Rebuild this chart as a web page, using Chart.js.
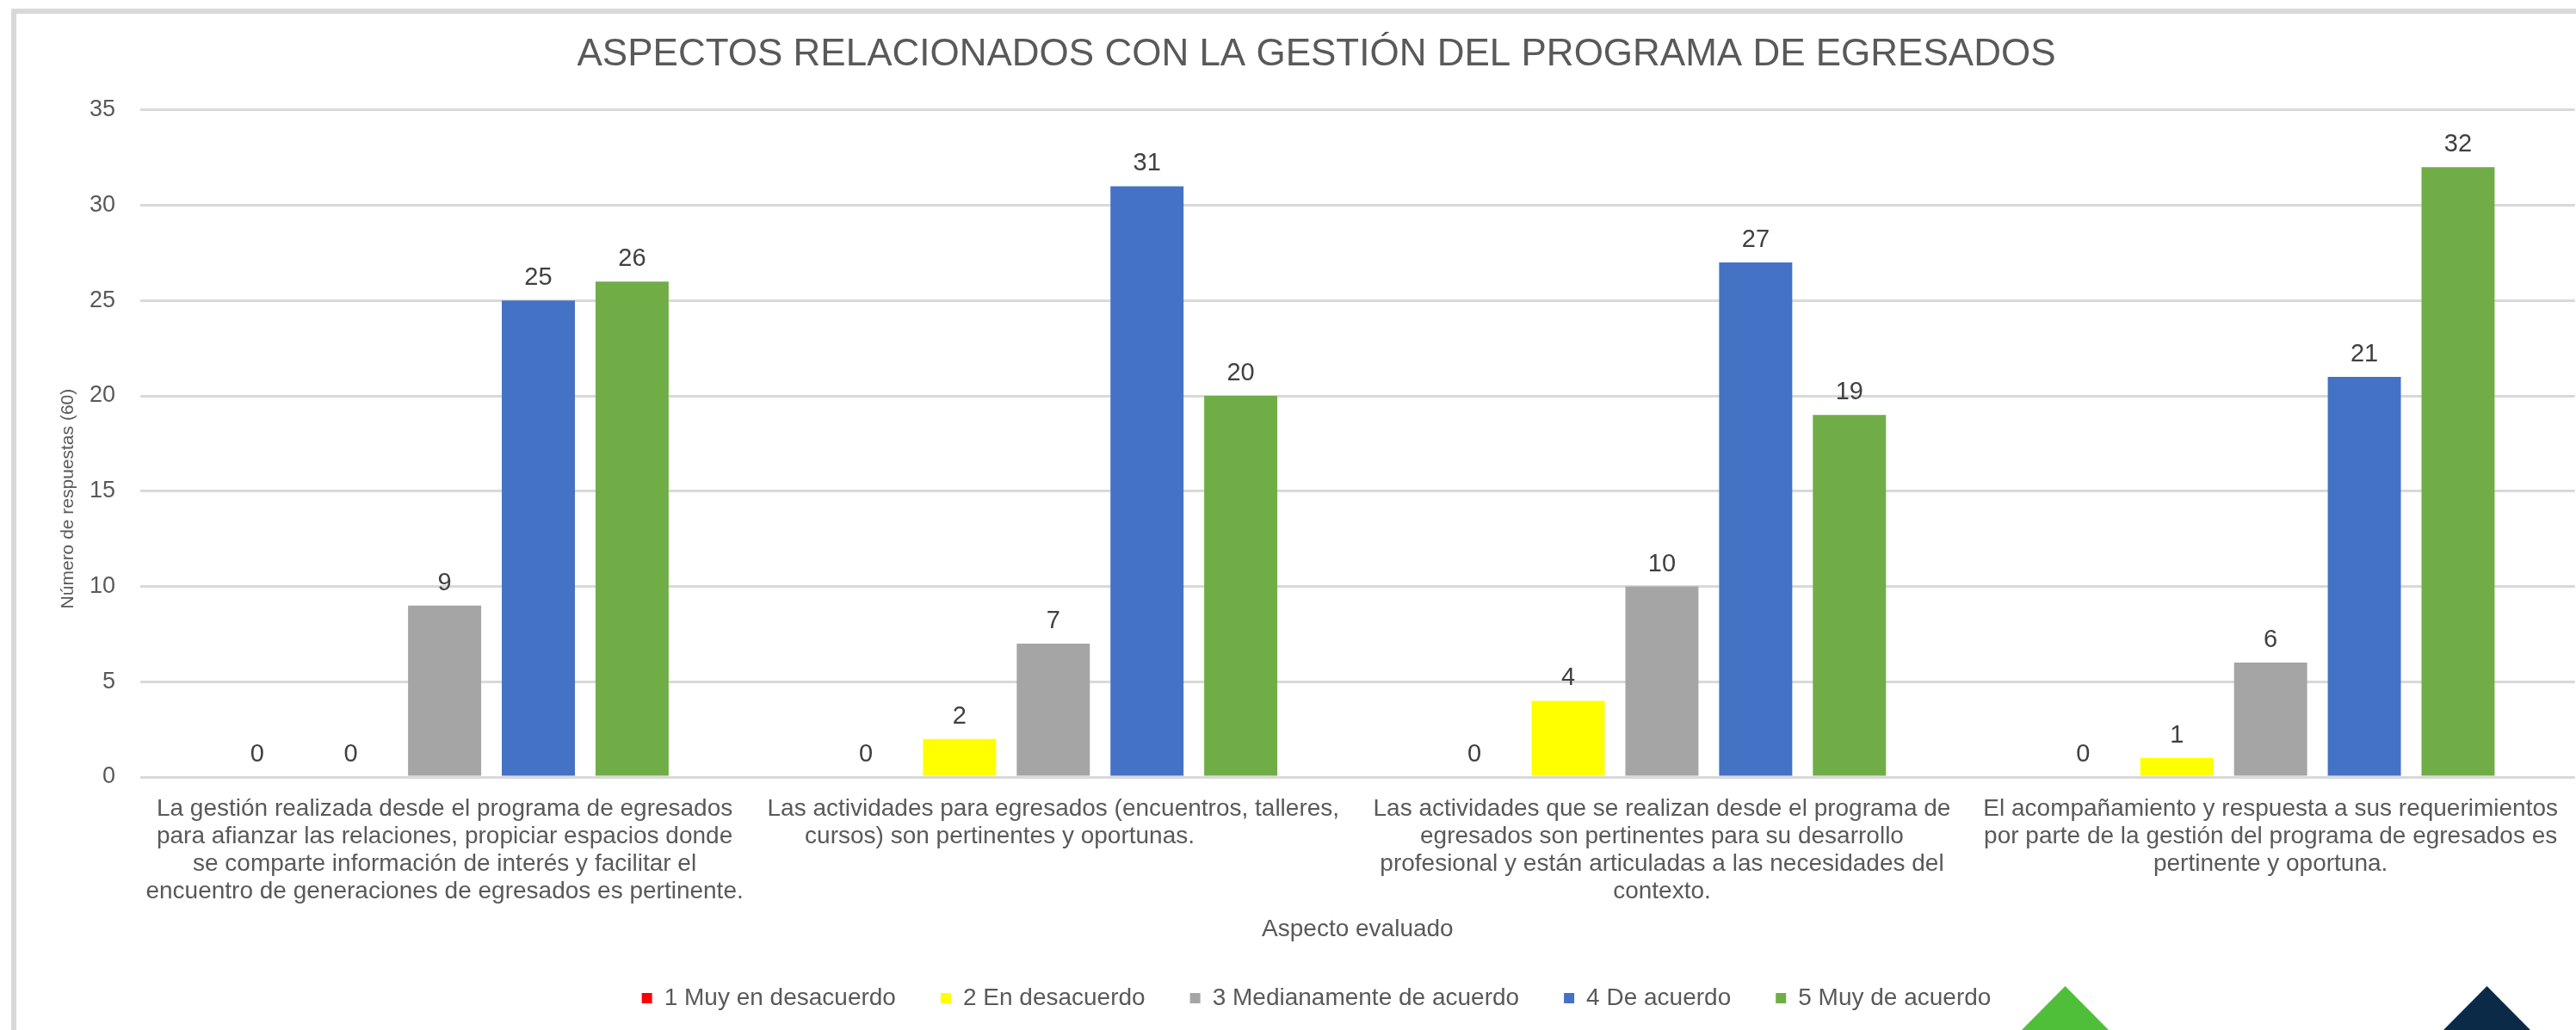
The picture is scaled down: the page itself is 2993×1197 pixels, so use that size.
<!DOCTYPE html>
<html lang="es">
<head>
<meta charset="utf-8">
<title>Aspectos relacionados con la gestión del programa de egresados</title>
<script src="https://cdn.jsdelivr.net/npm/chart.js@4.4.1/dist/chart.umd.min.js"></script>
<style>
    html, body { margin: 0; padding: 0; background: #fff; overflow: hidden; }
    #frame {
        position: absolute; left: 13px; top: 10px; width: 3100px; height: 1300px;
        border-left: 6px solid #d9d9d9; border-top: 6px solid #d9d9d9;
    }
    #wrap { position: absolute; left: 0; top: 0; width: 2993px; height: 1197px; }
    .tri {
        position: absolute; top: 1146px; width: 101px; height: 51px;
        clip-path: polygon(50% 0, 100% 100%, 0 100%);
    }
</style>
</head>
<body>
<div id="frame"></div>
<div id="wrap"><canvas id="chart"></canvas></div>
<div class="tri" style="left:2349px;background:#4fbf3a"></div>
<div class="tri" style="left:2839px;background:#0a2a47"></div>
<script>
// Categories (x axis labels, already wrapped like the original)
const categories = [
    ['La gestión realizada desde el programa de egresados',
     'para afianzar las relaciones, propiciar espacios donde',
     'se comparte información de interés y facilitar el',
     'encuentro de generaciones de egresados es pertinente.'],
    ['Las actividades para egresados (encuentros, talleres,',
     'cursos) son pertinentes y oportunas.                '],
    ['Las actividades que se realizan desde el programa de',
     'egresados son pertinentes para su desarrollo',
     'profesional y están articuladas a las necesidades del',
     'contexto.'],
    ['El acompañamiento y respuesta a sus requerimientos',
     'por parte de la gestión del programa de egresados es',
     'pertinente y oportuna.']
];

const seriesNames = ['1 Muy en desacuerdo', '2 En desacuerdo', '3 Medianamente de acuerdo', '4 De acuerdo', '5 Muy de acuerdo'];
const seriesColors = ['#ff0000', '#ffff00', '#a5a5a5', '#4472c4', '#70ad47'];

const muyDesacuerdo = [0, 0, 0, 0];
const desacuerdo = [0, 2, 4, 1];
const medianamente = [9, 7, 10, 6];
const deAcuerdo = [25, 31, 27, 21];
const muyDeAcuerdo = [26, 20, 19, 32];

const yTicks = [0, 5, 10, 15, 20, 25, 30, 35];

const FONT = '"Liberation Sans", Arial, sans-serif';
const GREY_TEXT = '#595959';

// Draw value labels on top of each bar
const valueLabels = {
    id: 'valueLabels',
    afterDatasetsDraw(chart) {
        const ctx = chart.ctx;
        ctx.save();
        ctx.font = '29px ' + FONT;
        ctx.fillStyle = '#404040';
        ctx.textAlign = 'center';
        ctx.textBaseline = 'alphabetic';
        chart.data.datasets.forEach((ds, i) => {
            chart.getDatasetMeta(i).data.forEach((bar, j) => {
                ctx.fillText(String(ds.data[j]), bar.x, bar.y - 18);
            });
        });
        ctx.restore();
    }
};

const allSeries = [muyDesacuerdo, desacuerdo, medianamente, deAcuerdo, muyDeAcuerdo];

new Chart(document.getElementById('chart'), {
    type: 'bar',
    data: {
        labels: categories,
        datasets: allSeries.map((values, i) => ({
            label: seriesNames[i],
            data: values,
            backgroundColor: seriesColors[i],
            borderWidth: 0,
            categoryPercentage: 0.77,
            barPercentage: 0.78
        }))
    },
    options: {
        responsive: true,
        maintainAspectRatio: false,
        animation: false,
        layout: {
            padding: { left: 66, right: 0, top: 0, bottom: 13 }
        },
        plugins: {
            title: {
                display: true,
                text: 'ASPECTOS RELACIONADOS CON LA GESTIÓN DEL PROGRAMA DE EGRESADOS',
                color: GREY_TEXT,
                font: { size: 44, family: FONT, weight: 'normal' },
                padding: { top: 37, bottom: 38 }
            },
            legend: {
                display: true,
                position: 'bottom',
                labels: {
                    boxWidth: 12,
                    boxHeight: 12,
                    padding: 52,
                    color: GREY_TEXT,
                    font: { size: 28, family: FONT }
                }
            },
            tooltip: { enabled: false }
        },
        scales: {
            x: {
                afterFit: (scale) => { scale.height = 191; },
                grid: { display: false, drawTicks: false },
                border: { display: false },
                ticks: {
                    color: GREY_TEXT,
                    padding: 21,
                    maxRotation: 0,
                    autoSkip: false,
                    font: { size: 28, family: FONT, lineHeight: 1.15 }
                },
                title: {
                    display: true,
                    text: 'Aspecto evaluado',
                    color: GREY_TEXT,
                    font: { size: 28, family: FONT, lineHeight: 1.0 },
                    padding: { top: 0, bottom: 0 }
                }
            },
            y: {
                min: 0,
                max: 35,
                afterBuildTicks: (scale) => {
                    scale.ticks = yTicks.map(v => ({ value: v }));
                },
                afterFit: (scale) => { scale.width = 97; },
                grid: { color: '#d9d9d9', lineWidth: 3, drawTicks: false },
                border: { display: false },
                ticks: {
                    color: GREY_TEXT,
                    padding: 29,
                    font: { size: 27, family: FONT }
                },
                title: {
                    display: true,
                    // trailing spaces push the visible text lower, as in the original
                    text: 'Número de respuestas (60)                      ',
                    color: GREY_TEXT,
                    font: { size: 21, family: FONT },
                    padding: { top: 1, bottom: 0 }
                }
            }
        }
    },
    plugins: [valueLabels]
});
</script>
</body>
</html>
